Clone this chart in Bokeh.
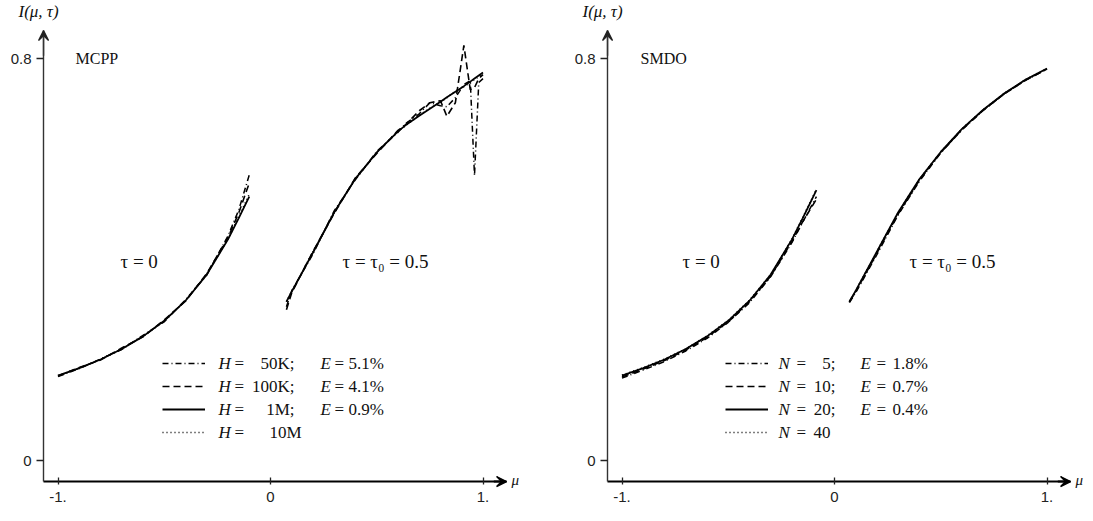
from bokeh.plotting import figure
from bokeh.layouts import row
from bokeh.models import (FixedTicker, Label, Arrow, VeeHead, Legend, LegendItem, Range1d)
from bokeh.embed import file_html
from bokeh.resources import INLINE

# ---------------- data ----------------
x_ticks = [-1, 0, 1]
x_tick_labels = ["-1.", "0", "1."]
y_ticks = [0, 0.8]
y_tick_labels = ["0", "0.8"]

# MCPP panel
mcpp_mu_neg = [-1.0, -0.9, -0.8, -0.7, -0.6, -0.5, -0.4, -0.3, -0.2, -0.15, -0.1]
mcpp_50k_neg = [0.167, 0.183, 0.202, 0.221, 0.249, 0.276, 0.320, 0.369, 0.447, 0.498, 0.568]
mcpp_100k_neg = [0.168, 0.185, 0.200, 0.224, 0.246, 0.280, 0.317, 0.372, 0.444, 0.492, 0.552]
mcpp_1m_neg = [0.169, 0.184, 0.201, 0.222, 0.247, 0.278, 0.318, 0.370, 0.440, 0.482, 0.525]
mcpp_10m_neg = [0.169, 0.184, 0.201, 0.222, 0.247, 0.278, 0.318, 0.371, 0.441, 0.484, 0.530]

mcpp_mu_pos = [0.075, 0.1, 0.2, 0.3, 0.4, 0.5, 0.6, 0.635, 0.7, 0.75, 0.8, 0.83, 0.87, 0.91, 0.94, 0.96, 0.98, 1.0]
mcpp_50k_pos = [0.306, 0.338, 0.411, 0.497, 0.559, 0.615, 0.653, 0.670, 0.690, 0.712, 0.706, 0.704, 0.722, 0.748, 0.756, 0.567, 0.752, 0.760]
mcpp_100k_pos = [0.300, 0.334, 0.416, 0.492, 0.563, 0.611, 0.657, 0.668, 0.696, 0.712, 0.716, 0.685, 0.712, 0.826, 0.738, 0.742, 0.760, 0.768]
mcpp_1m_pos = [0.316, 0.336, 0.414, 0.494, 0.561, 0.613, 0.655, 0.667, 0.686, 0.700, 0.714, 0.723, 0.734, 0.745, 0.754, 0.760, 0.766, 0.772]
mcpp_10m_pos = [0.316, 0.337, 0.415, 0.493, 0.561, 0.613, 0.656, 0.666, 0.687, 0.701, 0.713, 0.722, 0.735, 0.744, 0.752, 0.758, 0.764, 0.770]

# SMDO panel
smdo_mu_neg = [-1.0, -0.9, -0.8, -0.7, -0.6, -0.5, -0.4, -0.3, -0.2, -0.15, -0.085]
smdo_n5_neg = [0.164, 0.180, 0.197, 0.218, 0.243, 0.275, 0.314, 0.366, 0.434, 0.474, 0.525]
smdo_n10_neg = [0.166, 0.182, 0.199, 0.220, 0.245, 0.276, 0.316, 0.367, 0.436, 0.475, 0.520]
smdo_n20_neg = [0.169, 0.184, 0.201, 0.222, 0.247, 0.278, 0.318, 0.370, 0.440, 0.482, 0.538]
smdo_n40_neg = [0.170, 0.185, 0.202, 0.222, 0.248, 0.279, 0.319, 0.370, 0.441, 0.483, 0.540]

smdo_mu_pos = [0.07, 0.1, 0.2, 0.3, 0.4, 0.5, 0.6, 0.7, 0.8, 0.9, 1.0]
smdo_n5_pos = [0.314, 0.334, 0.410, 0.489, 0.556, 0.612, 0.658, 0.697, 0.730, 0.757, 0.779]
smdo_n10_pos = [0.316, 0.336, 0.413, 0.491, 0.558, 0.613, 0.659, 0.697, 0.730, 0.757, 0.779]
smdo_n20_pos = [0.316, 0.338, 0.416, 0.494, 0.560, 0.614, 0.660, 0.698, 0.731, 0.758, 0.780]
smdo_n40_pos = [0.316, 0.338, 0.416, 0.494, 0.560, 0.614, 0.660, 0.698, 0.731, 0.758, 0.780]

mcpp_legend = [("H", "50K;", "E", "5.1%"), ("H", "100K;", "E", "4.1%"),
               ("H", "1M;", "E", "0.9%"), ("H", "10M", None, None)]
smdo_legend = [("N", "5;", "E", "1.8%"), ("N", "10;", "E", "0.7%"),
               ("N", "20;", "E", "0.4%"), ("N", "40", None, None)]

# ---------------- styles / layout ----------------
X_PPU, Y_PPU = 212.5, 502.5      # pixels per data unit
H = 505
Y0_PX = 460                      # pixel row of I = 0
AX_X = -1.068                    # position of vertical axis line
AX_Y = -0.0418                   # position of horizontal axis line
TIP_X, TIP_Y = 1.111, 0.8557     # arrow tips
SERIF = "Liberation Serif"
SANS = "Liberation Sans"
INK = "#111111"
LEG_SIZE = "17px"
styles = [dict(line_dash="6 3 1 3", line_width=1.5),
          dict(line_dash="7 4", line_width=1.6),
          dict(line_dash="solid", line_width=1.8),
          dict(line_dash="1 3", line_width=1.6)]


def make_panel(name, mu_neg, negs, mu_pos, poss, legend_rows, W, x0_px, lay):
    xs, xe = -x0_px / X_PPU, (W - x0_px) / X_PPU
    ys, ye = -(H - Y0_PX) / Y_PPU, Y0_PX / Y_PPU
    p = figure(frame_width=W, frame_height=H, x_range=Range1d(xs, xe),
               y_range=Range1d(ys, ye), output_backend="svg", toolbar_location=None,
               min_border=0)
    p.grid.visible = False
    p.outline_line_color = None
    p.background_fill_color = "white"
    p.border_fill_color = "white"

    xa = p.xaxis[0]
    xa.fixed_location = AX_Y
    xa.bounds = (AX_X, TIP_X)
    xa.ticker = FixedTicker(ticks=x_ticks)
    xa.major_label_overrides = {t: l for t, l in zip(x_ticks, x_tick_labels)}
    xa.minor_tick_line_color = None
    xa.major_tick_in = 4
    xa.major_tick_out = 3
    xa.major_tick_line_width = 1.3
    xa.major_tick_line_color = "#222222"
    xa.axis_line_width = 2
    xa.axis_line_color = "black"
    xa.major_label_standoff = 7
    xa.major_label_text_font = SANS
    xa.major_label_text_font_size = "15px"
    xa.major_label_text_color = "#222222"

    ya = p.yaxis[0]
    ya.fixed_location = AX_X
    ya.bounds = (AX_Y, TIP_Y)
    ya.ticker = FixedTicker(ticks=y_ticks)
    ya.major_label_overrides = {t: l for t, l in zip(y_ticks, y_tick_labels)}
    ya.minor_tick_line_color = None
    ya.major_tick_in = 0
    ya.major_tick_out = 7
    ya.major_tick_line_width = 1.3
    ya.major_tick_line_color = "#222222"
    ya.axis_line_width = 1.4
    ya.axis_line_color = "#333333"
    ya.major_label_standoff = 5
    ya.major_label_text_font = SANS
    ya.major_label_text_font_size = "15px"
    ya.major_label_text_color = "#222222"

    # arrow heads at the axis ends
    p.add_layout(Arrow(end=VeeHead(size=10, line_color="black", line_width=1.4,
                                   fill_color="black"),
                       x_start=TIP_X - 0.06, y_start=AX_Y, x_end=TIP_X, y_end=AX_Y,
                       line_width=2, line_color="black"))
    p.add_layout(Arrow(end=VeeHead(size=10, line_color="#222222", line_width=1.3,
                                   fill_color="#222222"),
                       x_start=AX_X, y_start=TIP_Y - 0.05, x_end=AX_X, y_end=TIP_Y,
                       line_width=1.4, line_color="#333333"))

    renderers = []
    for st, yn, yp in zip(styles, negs, poss):
        r1 = p.line(mu_neg, yn, line_color="black", **st)
        p.line(mu_pos, yp, line_color="black", **st)
        renderers.append(r1)

    def px2x(px):
        return xs + px / X_PPU

    def px2y(py):
        return ye - py / Y_PPU

    # legend line samples (texts are set as separate pieces below)
    leg_h = 4 * 16 + 3 * 7
    leg = Legend(items=[LegendItem(label=" ", renderers=[r]) for r in renderers],
                 location=(lay["leg_x"], H - (lay["row0"] - 8) - leg_h),
                 glyph_width=43, glyph_height=16,
                 label_height=16, label_width=1, spacing=7, padding=0, margin=0,
                 border_line_color=None, background_fill_alpha=0,
                 label_text_font_size="2px", label_standoff=0)
    p.add_layout(leg)

    def lab(px, py, text, align="left", italic=False, size=LEG_SIZE):
        p.add_layout(Label(x=px2x(px), y=px2y(py), text=text, text_align=align,
                           text_baseline="middle", text_font=SERIF,
                           text_font_style="italic" if italic else "normal",
                           text_font_size=size, text_color=INK))

    for i, (var, val, evar, pct) in enumerate(legend_rows):
        py = lay["row0"] + 23 * i
        lab(lay["var"], py, var, italic=True)
        lab(lay["eq"], py, "=")
        if evar is not None:
            lab(lay["val"], py, val, align="right")
            lab(lay["evar"], py, evar, italic=True)
            lab(lay["eq2"], py, "=")
            lab(lay["pct"], py, pct)
        else:
            lab(lay["last"], py, val, align=lay["last_align"])

    # titles and annotations
    p.add_layout(Label(x=px2x(lay["name"]), y=0.8, text=name, text_align="left",
                       text_baseline="middle", text_font=SERIF,
                       text_font_size="16px", text_color=INK))
    lab(lay["tau0"], 261, "τ = 0", size="19px")
    lab(lay["tau5"], 261, "τ = τ₀ = 0.5", size="19px")
    p.add_layout(Label(x=AX_X, y=px2y(11), x_offset=-5, text="I(μ, τ)",
                       text_align="center", text_baseline="middle", text_font=SERIF,
                       text_font_style="italic", text_font_size="17px",
                       text_color=INK))
    p.add_layout(Label(x=TIP_X, y=AX_Y, x_offset=5, y_offset=2, text="μ",
                       text_align="left", text_baseline="middle", text_font=SERIF,
                       text_font_style="italic", text_font_size="15px",
                       text_color=INK))
    return p


lay_left = dict(leg_x=162, row0=363, var=218, eq=234, val=294, evar=320, eq2=334,
                pct=348, last=269, last_align="left", name=75, tau0=120, tau5=342)
lay_right = dict(leg_x=172, row0=363, var=225, eq=243, val=282, evar=307, eq2=323,
                 pct=339, last=277, last_align="right", name=87, tau0=129, tau5=356)

p1 = make_panel("MCPP", mcpp_mu_neg,
                [mcpp_50k_neg, mcpp_100k_neg, mcpp_1m_neg, mcpp_10m_neg],
                mcpp_mu_pos,
                [mcpp_50k_pos, mcpp_100k_pos, mcpp_1m_pos, mcpp_10m_pos],
                mcpp_legend, 553, 270, lay_left)
p2 = make_panel("SMDO", smdo_mu_neg,
                [smdo_n5_neg, smdo_n10_neg, smdo_n20_neg, smdo_n40_neg],
                smdo_mu_pos,
                [smdo_n5_pos, smdo_n10_pos, smdo_n20_pos, smdo_n40_pos],
                smdo_legend, 532, 281, lay_right)

layout = row(p1, p2)
open("out.html", "w").write(file_html(layout, INLINE))
